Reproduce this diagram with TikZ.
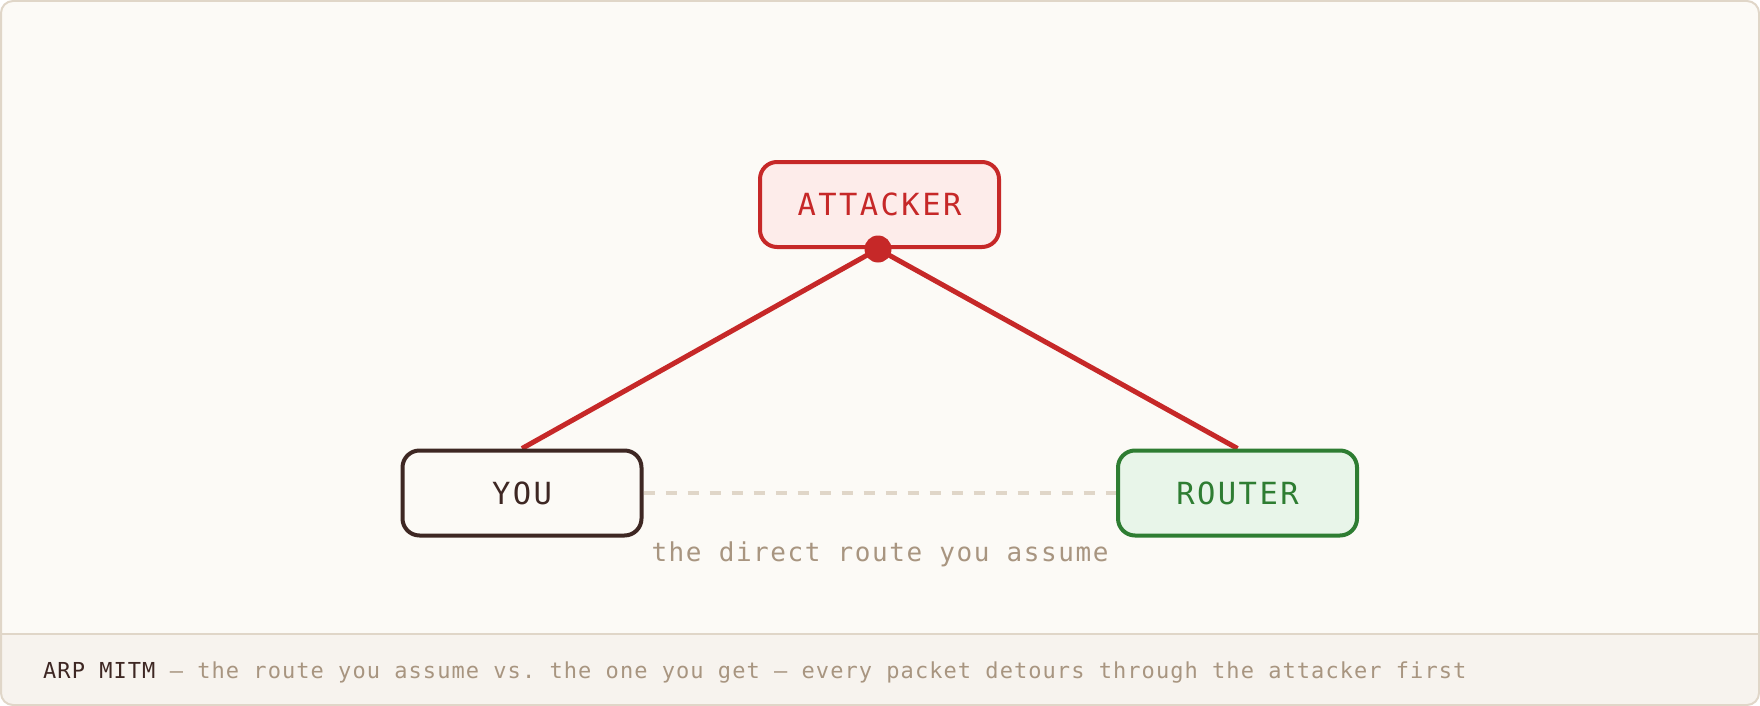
\documentclass[tikz,border=0pt]{standalone}
\usepackage{fontspec}
\frenchspacing
\pgfdeclarelayer{bottom}
\pgfdeclarelayer{lines}
\pgfsetlayers{bottom,lines,main}
\newfontfamily\boxfont[LetterSpace=8]{DejaVu Sans Mono}
\newfontfamily\labfont[LetterSpace=6]{DejaVu Sans Mono}
\newfontfamily\footfont[LetterSpace=4.8]{DejaVu Sans Mono}
\definecolor{bgc}{HTML}{FCFAF6}
\definecolor{footc}{HTML}{F7F3EE}
\definecolor{borderc}{HTML}{E0D6C8}
\definecolor{redc}{HTML}{C62828}
\definecolor{redfill}{HTML}{FDECEA}
\definecolor{brownc}{HTML}{3E2723}
\definecolor{greenc}{HTML}{2E7D32}
\definecolor{greenfill}{HTML}{E8F5E9}
\definecolor{grayc}{HTML}{A89580}
\tikzset{
  hostbox/.style={draw, line width=4pt, rounded corners=17pt, minimum width=239pt, minimum height=85pt, inner sep=0pt, font=\boxfont\fontsize{30.5}{36}\selectfont},
  attackline/.style={draw=redc, line width=5pt},
  directline/.style={draw=borderc, line width=4pt, dash pattern=on 11pt off 11pt},
}
\begin{document}
\begin{tikzpicture}[x=1pt,y=-1pt]
\useasboundingbox (0,0) rectangle (1760,706);
\begin{pgfonlayer}{bottom}
\begin{scope}
  \clip[rounded corners=12pt] (1,1) rectangle (1759,705);
  \fill[bgc] (0,0) rectangle (1760,706);
  \fill[footc] (0,634) rectangle (1760,706);
\end{scope}
\draw[borderc, line width=2pt] (1,634) -- (1759,634);
\draw[borderc, line width=2pt, rounded corners=12pt] (1,1) rectangle (1759,705);
\end{pgfonlayer}

\node[hostbox, draw=redc, fill=redfill, text=redc] (attacker) at (879.5,204.5) {ATTACKER};
\node[hostbox, draw=brownc, fill=bgc, text=brownc] (you) at (522,493) {YOU};
\node[hostbox, draw=greenc, fill=greenfill, text=greenc] (router) at (1237.5,493) {ROUTER};
\coordinate (hub) at (878,249);

\begin{pgfonlayer}{lines}
\draw[attackline] (hub) -- (you.north);
\draw[attackline] (hub) -- (router.north);
\end{pgfonlayer}
\draw[directline] (you.east) -- (router.west);
\fill[redc] (hub) circle (13.5pt);

\node[anchor=base, inner sep=0pt, text=grayc, font=\labfont\fontsize{26}{30}\selectfont] (label) at (880,561.5) {the direct route you assume};

\node[anchor=base west, inner sep=0pt, font=\footfont\fontsize{22}{26}\selectfont] (footer) at (43,678) {\textcolor{brownc}{ARP MITM} \textcolor{grayc}{— the route you assume vs. the one you get — every packet detours through the attacker first}};
\end{tikzpicture}
\end{document}
